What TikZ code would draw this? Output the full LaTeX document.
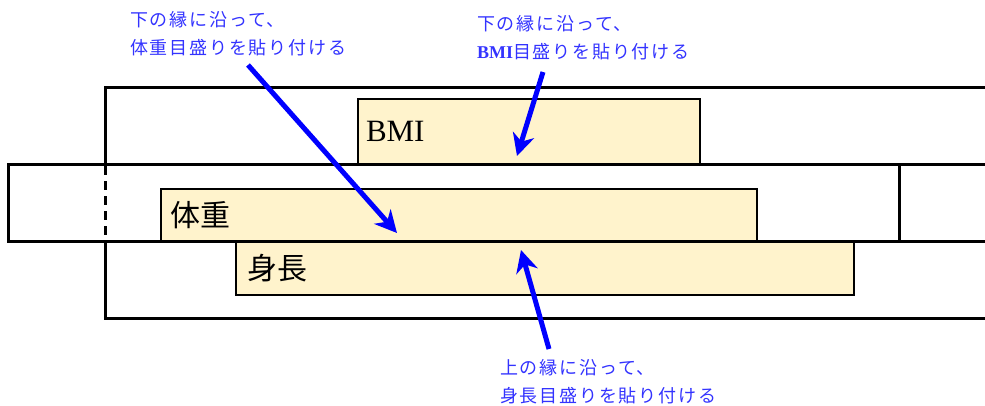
\documentclass[tikz,border=0pt]{standalone}
\usepackage{fontspec}
\setmainfont{Liberation Serif}
\newfontfamily\jp{Noto Sans CJK JP}
\newfontfamily\jpsp[LetterSpace=10]{Noto Sans CJK JP}
\usetikzlibrary{arrows.meta}
\definecolor{boxfill}{RGB}{255,243,204}
\definecolor{lblblue}{RGB}{51,51,255}
\definecolor{arrblue}{RGB}{0,0,255}
\tikzset{
  frame/.style={line width=3pt, black},
  scalebox/.style={draw=black, line width=2pt, fill=boxfill, anchor=north west, inner sep=0pt, align=left},
  note/.style={text=lblblue, anchor=west, align=left, inner sep=0pt, font=\fontsize{18}{28}\jpsp},
  pointer/.style={draw=arrblue, line width=5pt, -{Stealth[length=22pt,width=22pt,inset=7pt]}}
}
\begin{document}
\begin{tikzpicture}[x=1pt,y=-1pt]
\useasboundingbox (0,0) rectangle (985,405);
% scale strips
\node[scalebox, minimum width=342pt, minimum height=65pt, text width=326pt, font=\fontsize{31}{34}\selectfont] (bmi) at (357,98) {BMI};
\node[scalebox, minimum width=596pt, minimum height=53pt, text width=578pt, font=\fontsize{30}{34}\jp] (wt) at (160,188) {体重};
\node[scalebox, minimum width=618pt, minimum height=53pt, text width=596pt, font=\fontsize{30}{34}\jp] (ht) at (235,241) {身長};
% frames
\draw[frame] (985,87) -- (105,87) -- (105,164);
\draw[frame, dashed, dash pattern=on 9pt off 6pt] (105,166) -- (105,241);
\draw[frame] (105,241) -- (105,318) -- (985,318);
\draw[frame] (985,164) -- (8,164) -- (8,241) -- (985,241);
\draw[frame] (899,164) -- (899,241);
% notes
\node[note] (n1) at (130,34) {下の縁に沿って、\\体重目盛りを貼り付ける};
\node[note] (n2) at (477,38) {下の縁に沿って、\\{\fontsize{18}{28}\rmfamily\bfseries BMI}目盛りを貼り付ける};
\node[note] (n3) at (500,382) {上の縁に沿って、\\身長目盛りを貼り付ける};
% pointers
\coordinate (t1) at (248,65);
\coordinate (h1) at (397,233);
\coordinate (t2) at (543,72);
\coordinate (h2) at (517,156);
\coordinate (t3) at (549,349);
\coordinate (h3) at (521,250);
\draw[pointer] (t1) -- (h1);
\draw[pointer] (t2) -- (h2);
\draw[pointer] (t3) -- (h3);
\end{tikzpicture}
\end{document}
